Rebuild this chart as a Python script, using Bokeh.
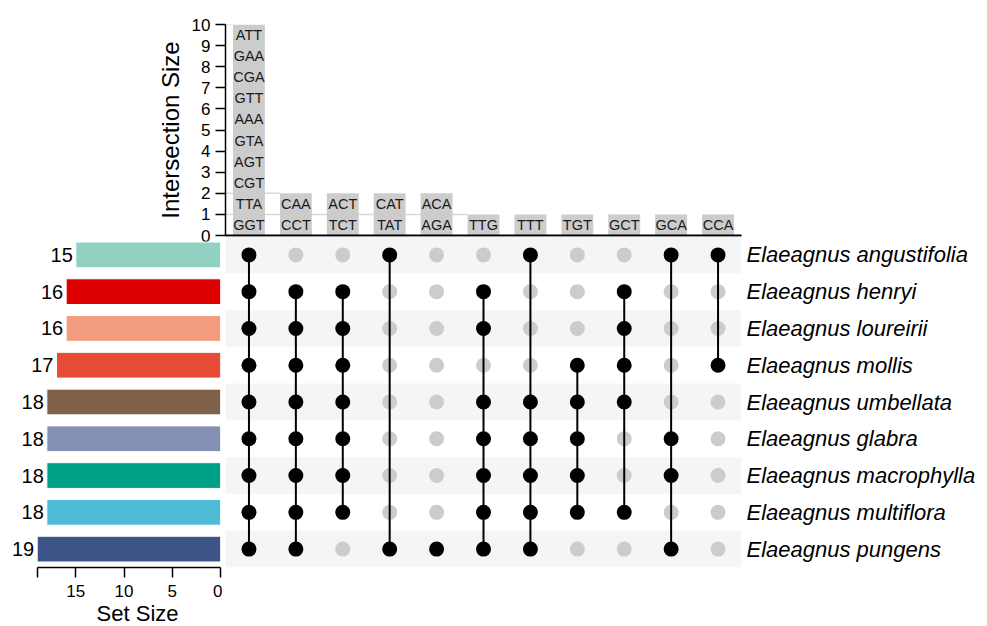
from bokeh.plotting import figure
from bokeh.layouts import column, row
from bokeh.models import ColumnDataSource, Range1d, FixedTicker, LinearAxis, LabelSet, Title
from bokeh.embed import file_html
from bokeh.resources import INLINE
from bokeh.core.properties import value

# ---------------- data ----------------
species = [
    "Elaeagnus angustifolia",
    "Elaeagnus henryi",
    "Elaeagnus loureirii",
    "Elaeagnus mollis",
    "Elaeagnus umbellata",
    "Elaeagnus glabra",
    "Elaeagnus macrophylla",
    "Elaeagnus multiflora",
    "Elaeagnus pungens",
]
set_sizes = [15, 16, 16, 17, 18, 18, 18, 18, 19]
set_colors = ["#91D1C2", "#DC0000", "#F39B7F", "#E64B35", "#7E6148",
              "#8491B4", "#00A087", "#4DBBD5", "#3C5488"]

intersection_sizes = [10, 2, 2, 2, 2, 1, 1, 1, 1, 1, 1]
intersection_elements = [
    ["GGT", "TTA", "CGT", "AGT", "GTA", "AAA", "GTT", "CGA", "GAA", "ATT"],
    ["CCT", "CAA"],
    ["TCT", "ACT"],
    ["TAT", "CAT"],
    ["AGA", "ACA"],
    ["TTG"],
    ["TTT"],
    ["TGT"],
    ["GCT"],
    ["GCA"],
    ["CCA"],
]
# row indices (into species) that belong to each intersection
intersection_members = [
    [0, 1, 2, 3, 4, 5, 6, 7, 8],
    [1, 2, 3, 4, 5, 6, 7, 8],
    [1, 2, 3, 4, 5, 6, 7],
    [0, 8],
    [8],
    [1, 2, 4, 5, 6, 7, 8],
    [0, 4, 5, 6, 7, 8],
    [3, 4, 5, 6, 7],
    [1, 2, 3, 4, 7],
    [0, 5, 6, 8],
    [0, 3],
]
size_ticks = [0, 5, 10, 15]

# ---------------- styling ----------------
FONT = "Liberation Sans"
BAR_W = 0.68
BAR_GREY = "#cccccc"
DOT_GREY = "#cccccc"
BAND = "#f5f5f5"

n_cols = len(intersection_sizes)
n_rows = len(species)
cols = list(range(n_cols))
rows = list(range(n_rows))

RIGHT_W = 246
LEFT_W = 222
LEFT_FRAME = 220
AXIS_SPAN_PX = 183.3   # pixel length of the set-size axis (0..max)
OVERLAP = 10
TOP_H = 236 + OVERLAP
BOT_H = 390


def clean(p, transparent=False):
    p.grid.visible = False
    p.outline_line_color = None
    if transparent:
        p.background_fill_color = None
        p.border_fill_color = None
    else:
        p.background_fill_color = "white"
        p.border_fill_color = "white"


# ---------------- top: intersection sizes ----------------
top = figure(width=987, height=TOP_H,
             x_range=Range1d(-0.5, n_cols - 0.5),
             y_range=Range1d(0, max(intersection_sizes)),
             output_backend="svg", toolbar_location=None,
             min_border_left=225, min_border_right=RIGHT_W,
             min_border_top=24, min_border_bottom=OVERLAP + 1)
clean(top)

# thin reference lines from axis to the first bar of each height
seg_x0, seg_x1, seg_y = [], [], []
seen = set()
for i, s in enumerate(intersection_sizes):
    if s not in seen:
        seen.add(s)
        seg_x0.append(-0.5)
        seg_x1.append(i - BAR_W / 2)
        seg_y.append(s)
top.segment(x0=seg_x0, x1=seg_x1, y0=seg_y, y1=seg_y,
            line_color="#d9d9d9", line_width=1.5)

top.vbar(x=cols, top=intersection_sizes, width=BAR_W,
         fill_color=BAR_GREY, line_color=None)

tx, ty, tt = [], [], []
for i, elems in enumerate(intersection_elements):
    for k, e in enumerate(elems):
        tx.append(i)
        ty.append(k + 0.5)
        tt.append(e)
top.text(x=tx, y=ty, text=tt, text_align="center", text_baseline="middle",
         text_font=value(FONT), text_font_size="14.5px", text_color="#1a1a1a")

xa = top.xaxis[0]
xa.ticker = FixedTicker(ticks=[])
xa.major_label_text_font_size = "0px"
xa.major_tick_out = 0
xa.major_tick_in = 0
xa.minor_tick_out = 0
xa.axis_line_width = 2
xa.axis_line_color = "black"

ya = top.yaxis[0]
ya.ticker = FixedTicker(ticks=list(range(0, max(intersection_sizes) + 1)))
ya.major_tick_out = 10
ya.major_tick_in = 0
ya.minor_tick_out = 0
ya.minor_tick_in = 0
ya.axis_line_width = 1.5
ya.major_tick_line_width = 1.5
ya.axis_line_color = "black"
ya.major_tick_line_color = "black"
ya.major_label_text_font = FONT
ya.major_label_text_font_size = "17px"
ya.major_label_text_color = "black"
ya.major_label_standoff = 5
ya.axis_label = "Intersection Size"
ya.axis_label_text_font = FONT
ya.axis_label_text_font_size = "24px"
ya.axis_label_text_font_style = "normal"
ya.axis_label_text_color = "black"
ya.axis_label_standoff = 5

# ---------------- bottom-left: set sizes ----------------
x_end = max(set_sizes) * LEFT_FRAME / AXIS_SPAN_PX
left = figure(width=LEFT_W, height=BOT_H,
              x_range=Range1d(x_end, 0),
              y_range=Range1d(n_rows - 0.5, -0.5),
              output_backend="svg", toolbar_location=None,
              min_border_left=0, min_border_right=LEFT_W - LEFT_FRAME,
              min_border_top=0, min_border_bottom=59)
clean(left, transparent=True)
src_l = ColumnDataSource(dict(row=rows, size=set_sizes, color=set_colors,
                              label=[str(s) for s in set_sizes]))
left.hbar(y="row", left=0, right="size", height=0.7, fill_color="color",
          line_color="white", line_width=1, source=src_l)
left.add_layout(LabelSet(x="size", y="row", text="label", source=src_l,
                         x_offset=-3, text_align="right", text_baseline="middle",
                         text_font=value(FONT), text_font_size="20px",
                         text_color="black"))
left.yaxis.visible = False
lx = left.xaxis[0]
lx.bounds = (0, max(set_sizes))
lx.ticker = FixedTicker(ticks=size_ticks + [max(set_sizes)])
lx.major_label_overrides = {max(set_sizes): ""}
lx.major_tick_out = 10
lx.major_tick_in = 0
lx.minor_tick_out = 0
lx.minor_tick_in = 0
lx.axis_line_width = 1.5
lx.major_tick_line_width = 1.5
lx.axis_line_color = "black"
lx.major_tick_line_color = "black"
lx.major_label_text_font = FONT
lx.major_label_text_font_size = "17px"
lx.major_label_text_color = "black"
lx.major_label_standoff = 7
left.add_layout(Title(text="Set Size", align="right", offset=42,
                      text_font=FONT, text_font_size="22px",
                      text_font_style="normal", text_color="black",
                      vertical_align="middle", standoff=0), "below")

# ---------------- bottom-right: membership matrix ----------------
mat = figure(width=987 - LEFT_W, height=BOT_H,
             x_range=Range1d(-0.5, n_cols - 0.5),
             y_range=Range1d(n_rows - 0.5, -0.5),
             output_backend="svg", toolbar_location=None,
             min_border_left=225 - LEFT_W, min_border_right=RIGHT_W,
             min_border_top=0, min_border_bottom=59)
clean(mat, transparent=True)
mat.xaxis.visible = False
mat.yaxis.visible = False

band_rows = rows[0::2]
mat.hbar(y=band_rows, left=-0.5, right=n_cols - 0.5, height=1,
         fill_color=BAND, line_color=None)

gx, gy, bx, by = [], [], [], []
sx0, sy0, sy1 = [], [], []
for i, mem in enumerate(intersection_members):
    for r in rows:
        if r in mem:
            bx.append(i)
            by.append(r)
        else:
            gx.append(i)
            gy.append(r)
    if len(mem) > 1:
        sx0.append(i)
        sy0.append(min(mem))
        sy1.append(max(mem))

mat.scatter(x=gx, y=gy, size=15, fill_color=DOT_GREY, line_color=None)
mat.segment(x0=sx0, x1=sx0, y0=sy0, y1=sy1, line_color="black", line_width=2)
mat.scatter(x=bx, y=by, size=15, fill_color="black", line_color=None)

ra = LinearAxis(ticker=FixedTicker(ticks=rows),
                major_label_overrides={r: species[r] for r in rows})
ra.axis_line_color = None
ra.major_tick_line_color = None
ra.minor_tick_line_color = None
ra.major_tick_out = 0
ra.major_tick_in = 0
ra.minor_tick_out = 0
ra.major_label_standoff = 5
ra.major_label_text_font = FONT
ra.major_label_text_font_size = "22px"
ra.major_label_text_font_style = "italic"
ra.major_label_text_color = "black"
mat.add_layout(ra, "right")

bottom = row(left, mat, margin=(-OVERLAP, 0, 0, 0))
layout = column(top, bottom)
open("out.html", "w").write(file_html(layout, INLINE))
